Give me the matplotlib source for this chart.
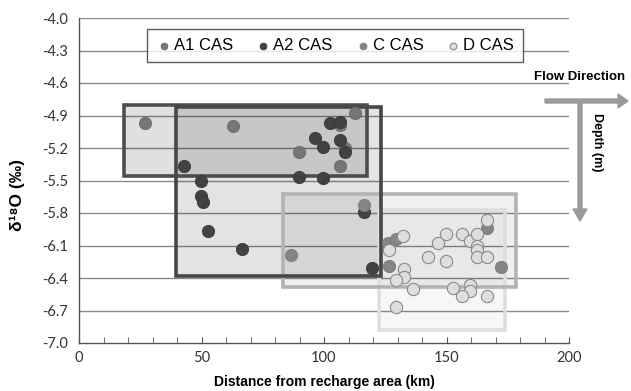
import matplotlib
matplotlib.use("Agg")
import matplotlib.pyplot as plt
from matplotlib.patches import Rectangle, FancyArrow

# ---- data ----
a1_x = [26.9, 62.7, 112.7, 106.5, 89.7, 106.5, 108.6]
a1_y = [-4.97, -5.00, -4.88, -4.99, -5.24, -5.37, -5.20]

a2_x = [102.4, 106.5, 96.5, 99.7, 106.5, 108.6, 42.9, 49.7, 89.7, 99.7, 49.7, 50.7, 52.8, 66.7, 116.5, 119.6]
a2_y = [-4.97, -4.96, -5.11, -5.19, -5.13, -5.24, -5.37, -5.50, -5.47, -5.48, -5.64, -5.70, -5.97, -6.13, -5.79, -6.31]

c_x = [116.5, 86.5, 126.5, 126.2, 129.4, 166.4, 172.2]
c_y = [-5.73, -6.19, -6.29, -6.08, -6.04, -5.94, -6.30]

d_x = [132.4, 126.5, 132.7, 132.8, 129.4, 136.5, 129.4, 149.7, 146.4, 142.6, 149.7, 156.5,
       159.6, 162.6, 162.6, 162.6, 162.6, 166.4, 166.4, 152.5, 159.6, 159.6, 156.5, 166.4]
d_y = [-6.01, -6.14, -6.32, -6.39, -6.42, -6.50, -6.67, -5.99, -6.08, -6.21, -6.24, -5.99,
       -6.06, -5.99, -6.10, -6.14, -6.21, -6.21, -5.86, -6.49, -6.46, -6.52, -6.57, -6.57]

# group boxes: (x0, x1, y_low, y_high)
box_names = ["A1", "A2", "C", "D"]
box_x0 = [18.4, 39.6, 83.3, 122.4]
box_x1 = [117.6, 123.3, 178.4, 173.9]
box_ylo = [-5.46, -6.38, -6.48, -6.88]
box_yhi = [-4.80, -4.82, -5.62, -5.77]

yticks = [-4.0, -4.3, -4.6, -4.9, -5.2, -5.5, -5.8, -6.1, -6.4, -6.7, -7.0]
xticks = [0, 50, 100, 150, 200]
legend_labels = ["A1 CAS", "A2 CAS", "C CAS", "D CAS"]

# ---- figure ----
fig = plt.figure(figsize=(6.31, 3.91), dpi=100)
ax = fig.add_axes([79/631, 1-343/391, (569-79)/631, (343-18)/391])
ax.set_xlim(0, 200)
ax.set_ylim(-7.0, -4.0)

for y in yticks[:-1]:
    ax.axhline(y, color="#8a8a8a", lw=1.0, zorder=0)

box_face = [(0, 0, 0, 0.12), (0, 0, 0, 0.11), (0, 0, 0, 0.06), (0, 0, 0, 0.03)]
box_edge = ["#4d4d4d", "#474747", "#b3b3b3", "#dedede"]
for i in [0, 1, 2, 3]:
    ax.add_patch(Rectangle((box_x0[i], box_ylo[i]), box_x1[i]-box_x0[i], box_yhi[i]-box_ylo[i],
                           facecolor=box_face[i], edgecolor="none", zorder=1))
for i in [3, 2, 0, 1]:
    ax.add_patch(Rectangle((box_x0[i], box_ylo[i]), box_x1[i]-box_x0[i], box_yhi[i]-box_ylo[i],
                           facecolor="none", edgecolor=box_edge[i], lw=2.6, zorder=2))

s = 78
ax.scatter(a1_x, a1_y, s=s, color="#767676", edgecolors="#6a6a6a", lw=0.6, zorder=3, label=legend_labels[0])
ax.scatter(a2_x, a2_y, s=s, color="#424242", edgecolors="#383838", lw=0.6, zorder=4, label=legend_labels[1])
ax.scatter(c_x, c_y, s=s, color="#858585", edgecolors="#7a7a7a", lw=0.6, zorder=5, label=legend_labels[2])
ax.scatter(d_x, d_y, s=s, color="#dedede", edgecolors="#8a8a8a", lw=0.8, zorder=6, label=legend_labels[3])

for sp in ["top", "right"]:
    ax.spines[sp].set_visible(False)
for sp in ["left", "bottom"]:
    ax.spines[sp].set_color("#555555")
    ax.spines[sp].set_linewidth(1.0)

ax.set_yticks(yticks)
ax.set_yticklabels([f"{v:.1f}" for v in yticks])
ax.set_xticks(xticks)
ax.set_xticks(range(0, 201, 10), minor=True)
ax.tick_params(axis="y", length=0, pad=8, labelsize=10.5, labelcolor="#333333")
ax.tick_params(axis="x", which="both", direction="in", length=4, color="#555555",
               labelsize=10.5, labelcolor="#333333", pad=6)
for lab in ax.get_xticklabels() + ax.get_yticklabels():
    lab.set_family("Lato")

ax.set_xlabel("Distance from recharge area (km)", fontsize=10, fontweight="bold",
              family=["Liberation Sans", "DejaVu Sans"], labelpad=7)
fig.text(17/631, 1-195/391, "δ¹⁸O (‰)", rotation=90, fontsize=12.5, fontweight="bold",
         family=["Liberation Sans", "DejaVu Sans"], ha="center", va="center")

leg = ax.legend(loc="upper center", bbox_to_anchor=((335-79)/490, 1-(29-18)/325), ncol=4,
                frameon=True, fancybox=False, edgecolor="#333333",
                markerscale=0.55, handletextpad=0.1, columnspacing=1.3,
                borderpad=0.55, borderaxespad=0, handlelength=1.0,
                prop={"family": "Liberation Sans", "size": 12})
leg.get_frame().set_linewidth(1.0)
leg.set_zorder(10)

# flow / depth arrows
fig.patches.append(FancyArrow(545/631, 1-101/391, (628-545)/631, 0, width=4/391,
                              head_width=14/391, head_length=10/631, length_includes_head=True,
                              color="#9a9a9a", transform=fig.transFigure, figure=fig))
fig.patches.append(FancyArrow(580/631, 1-101/391, 0, -(221-101)/391, width=4/631,
                              head_width=14/631, head_length=12/391, length_includes_head=True,
                              color="#9a9a9a", transform=fig.transFigure, figure=fig))
fig.text(580/631, 1-77/391, "Flow Direction", fontsize=9.5, fontweight="bold",
         family="Liberation Sans", ha="center", va="center")
fig.text(597/631, 1-142/391, "Depth (m)", rotation=270, fontsize=9, fontweight="bold",
         family="Liberation Sans", ha="center", va="center")

fig.savefig("out.png", dpi=100)
